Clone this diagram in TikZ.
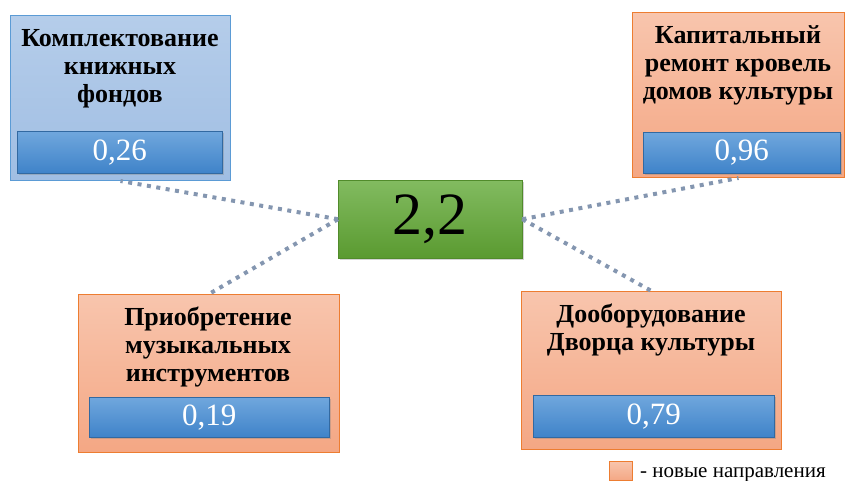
\documentclass[tikz,border=0pt]{standalone}
\usepackage{fontspec}
\setmainfont{Liberation Serif}
\usetikzlibrary{shadows}

\definecolor{skyfill}{HTML}{B5CDEA}
\definecolor{skyfilldark}{HTML}{A0BEE3}
\definecolor{skyline}{HTML}{5B9BD5}
\definecolor{peachfill}{HTML}{F8C5AD}
\definecolor{peachfilldark}{HTML}{F4A784}
\definecolor{peachline}{HTML}{ED7D31}
\definecolor{valtop}{HTML}{70A7DD}
\definecolor{valbot}{HTML}{3F83C9}
\definecolor{greentop}{HTML}{82BB60}
\definecolor{greenbot}{HTML}{5A9A30}
\definecolor{linkgray}{HTML}{8496B0}

\tikzset{
  outerbox/.style={rectangle, anchor=north west, inner sep=0pt, line width=1pt},
  bluebox/.style={outerbox, draw=skyline, top color=skyfill, bottom color=skyfilldark},
  peachbox/.style={outerbox, draw=peachline, top color=peachfill, bottom color=peachfilldark},
  valbox/.style={rectangle, anchor=north west, inner sep=0pt, draw=valbot!80!black, line width=0.4pt,
    top color=valtop, bottom color=valbot,
    drop shadow={shadow xshift=1.5pt, shadow yshift=-2pt, opacity=0.35}},
  valtext/.style={text=white, font=\fontsize{31}{36}\selectfont, inner sep=0pt},
  title/.style={font=\bfseries\fontsize{26}{28}\selectfont, align=center, inner sep=0pt, anchor=north},
  link/.style={draw=linkgray, line width=4pt, dash pattern=on 4pt off 5.5pt}
}

\begin{document}
\begin{tikzpicture}[x=1pt,y=-1pt]
  \useasboundingbox (0,0) rectangle (845,481);

  % outer boxes
  \node[bluebox, minimum width=220pt, minimum height=165pt] (komp) at (10,15) {};
  \node[peachbox, minimum width=212pt, minimum height=165pt] (krov) at (632,12) {};
  \node[peachbox, minimum width=261pt, minimum height=158pt] (instr) at (78,294) {};
  \node[peachbox, minimum width=260pt, minimum height=158pt] (dvor) at (521,291) {};

  % total
  \node[rectangle, anchor=north west, minimum width=184pt, minimum height=78pt, inner sep=0pt,
    draw=greenbot!90!black, line width=0.4pt, top color=greentop, bottom color=greenbot,
    drop shadow={shadow xshift=1.5pt, shadow yshift=-2pt, opacity=0.35}] (total) at (338,180) {};
  \node[font=\fontsize{60}{64}\selectfont, inner sep=0pt] (totaltext) at (total.center) {2,2};

  % titles
  \node[title] (kompname) at (120,29) {Комплектование\\книжных\\фондов};
  \node[title] (krovname) at (738,25) {Капитальный\\ремонт кровель\\домов культуры};
  \node[title] (instrname) at (208,307) {Приобретение\\музыкальных\\инструментов};
  \node[title] (dvorname) at (651,304) {Дооборудование\\Дворца культуры};

  % values
  \node[valbox, minimum width=205pt, minimum height=42pt] (v026) at (17,131) {};
  \node[valtext] at (v026.center) {0,26};
  \node[valbox, minimum width=197pt, minimum height=41pt] (v096) at (643,132) {};
  \node[valtext] at (v096.center) {0,96};
  \node[valbox, minimum width=240pt, minimum height=40pt] (v019) at (89,397) {};
  \node[valtext] at (v019.center) {0,19};
  \node[valbox, minimum width=241pt, minimum height=42pt] (v079) at (533,395) {};
  \node[valtext] at (v079.center) {0,79};

  % links
  \draw[link] (total.west) -- (komp.south);
  \draw[link] (total.west) -- (instr.north);
  \draw[link] (total.east) -- (krov.south);
  \draw[link] (total.east) -- (dvor.north);

  % legend
  \node[peachbox, line width=0.8pt, minimum width=23pt, minimum height=19pt] (legbox) at (609,461) {};
  \node[anchor=base west, inner sep=0pt, font=\fontsize{21}{24}\selectfont] (legtext) at (640,477) {- новые направления};
\end{tikzpicture}
\end{document}
